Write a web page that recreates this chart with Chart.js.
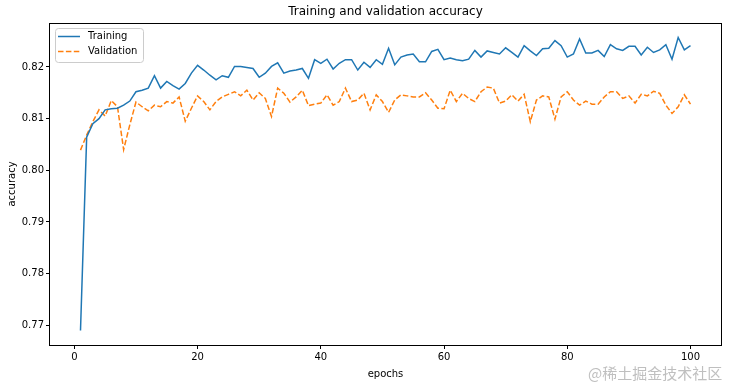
<!DOCTYPE html>
<html>
<head>
<meta charset="utf-8">
<script src="https://cdn.jsdelivr.net/npm/chart.js@4.4.0/dist/chart.umd.min.js"></script>
<style>
  html, body { margin: 0; padding: 0; background: #fff; }
  #wrap { width: 730px; height: 387px; position: relative; }
  #mark {
    position: absolute; left: 588px; top: 362px;
    font-family: "Noto Sans CJK SC", sans-serif; font-size: 15px;
    color: rgba(170, 170, 170, 0.75); white-space: nowrap;
  }
</style>
</head>
<body>
<div id="wrap">
  <canvas id="chartAcc" width="730" height="387"></canvas>
  <div id="mark">@稀土掘金技术社区</div>
</div>
<script>
const epochs = [
  1, 2, 3, 4, 5, 6, 7, 8, 9, 10, 11, 12, 13, 14, 15, 16, 17, 18, 19, 20,
  21, 22, 23, 24, 25, 26, 27, 28, 29, 30, 31, 32, 33, 34, 35, 36, 37, 38, 39, 40,
  41, 42, 43, 44, 45, 46, 47, 48, 49, 50, 51, 52, 53, 54, 55, 56, 57, 58, 59, 60,
  61, 62, 63, 64, 65, 66, 67, 68, 69, 70, 71, 72, 73, 74, 75, 76, 77, 78, 79, 80,
  81, 82, 83, 84, 85, 86, 87, 88, 89, 90, 91, 92, 93, 94, 95, 96, 97, 98, 99, 100
];

const trainAcc = [
  0.7690, 0.8064, 0.8090, 0.8100, 0.8117, 0.8119, 0.8120, 0.8126, 0.8134, 0.8152,
  0.8155, 0.8159, 0.8183, 0.8159, 0.8172, 0.8164, 0.8157, 0.8168, 0.8188, 0.8203,
  0.8194, 0.8184, 0.8175, 0.8183, 0.8180, 0.8201, 0.8201, 0.8199, 0.8197, 0.8180,
  0.8188, 0.8201, 0.8208, 0.8188, 0.8192, 0.8194, 0.8197, 0.8178, 0.8214, 0.8207,
  0.8215, 0.8196, 0.8207, 0.8214, 0.8214, 0.8194, 0.8209, 0.8199, 0.8214, 0.8205,
  0.8236, 0.8204, 0.8219, 0.8223, 0.8225, 0.8210, 0.8210, 0.8230, 0.8234, 0.8214,
  0.8217, 0.8214, 0.8212, 0.8215, 0.8232, 0.8219, 0.8231, 0.8228, 0.8225, 0.8237,
  0.8228, 0.8219, 0.8241, 0.8231, 0.8222, 0.8235, 0.8236, 0.8251, 0.8241, 0.8219,
  0.8225, 0.8254, 0.8227, 0.8227, 0.8232, 0.8220, 0.8243, 0.8235, 0.8232, 0.8240,
  0.8240, 0.8223, 0.8238, 0.8228, 0.8233, 0.8243, 0.8215, 0.8257, 0.8233, 0.8241
];

const valAcc = [
  0.8039, 0.8068, 0.8094, 0.8117, 0.8105, 0.8135, 0.8123, 0.8040, 0.8088, 0.8132,
  0.8123, 0.8115, 0.8126, 0.8123, 0.8133, 0.8130, 0.8142, 0.8095, 0.8120, 0.8144,
  0.8133, 0.8117, 0.8133, 0.8142, 0.8147, 0.8152, 0.8144, 0.8155, 0.8136, 0.8150,
  0.8139, 0.8104, 0.8159, 0.8149, 0.8132, 0.8142, 0.8155, 0.8125, 0.8128, 0.8130,
  0.8146, 0.8126, 0.8133, 0.8159, 0.8133, 0.8136, 0.8149, 0.8117, 0.8146, 0.8133,
  0.8112, 0.8136, 0.8146, 0.8144, 0.8142, 0.8142, 0.8150, 0.8136, 0.8120, 0.8119,
  0.8155, 0.8133, 0.8149, 0.8139, 0.8133, 0.8152, 0.8161, 0.8159, 0.8130, 0.8134,
  0.8146, 0.8134, 0.8147, 0.8094, 0.8136, 0.8144, 0.8142, 0.8099, 0.8142, 0.8152,
  0.8136, 0.8126, 0.8134, 0.8128, 0.8128, 0.8142, 0.8152, 0.8152, 0.8139, 0.8144,
  0.8130, 0.8147, 0.8144, 0.8153, 0.8149, 0.8126, 0.8110, 0.8123, 0.8146, 0.8128
];

const xTickValues = [0, 20, 40, 60, 80, 100];
const yTickValues = [0.77, 0.78, 0.79, 0.80, 0.81, 0.82];

const FONT = '"DejaVu Sans", sans-serif';
const blue = '#1f77b4';
const orange = '#ff7f0e';

// Rahmen (alle vier Achsenlinien), Titel und Legende wie bei matplotlib
const framePlugin = {
  id: 'frame',
  afterDraw(chart) {
    const { ctx, chartArea: a } = chart;
    ctx.save();
    ctx.strokeStyle = '#000';
    ctx.lineWidth = 1;
    ctx.strokeRect(Math.round(a.left) - 0.5, Math.round(a.top) + 0.5,
      Math.round(a.right - a.left) + 1, Math.round(a.bottom - a.top));

    // Titel über der Plotfläche
    ctx.fillStyle = '#000';
    ctx.font = '12px ' + FONT;
    ctx.textAlign = 'center';
    ctx.textBaseline = 'middle';
    ctx.fillText('Training and validation accuracy', (a.left + a.right) / 2, 12);

    // Legende oben links
    const bx = a.left + 5, by = a.top + 5, bw = 88, bh = 34;
    ctx.beginPath();
    ctx.roundRect(bx + 0.5, by + 0.5, bw, bh, 3);
    ctx.fillStyle = 'rgba(255,255,255,0.8)';
    ctx.fill();
    ctx.strokeStyle = '#cccccc';
    ctx.stroke();

    const items = [
      { text: 'Training', color: blue, dash: [] },
      { text: 'Validation', color: orange, dash: [5.5, 2.4] },
    ];
    ctx.font = '10px ' + FONT;
    ctx.textAlign = 'left';
    items.forEach((it, i) => {
      const y = by + 8.5 + i * 15;
      ctx.beginPath();
      ctx.setLineDash(it.dash);
      ctx.strokeStyle = it.color;
      ctx.lineWidth = 1.5;
      ctx.moveTo(bx + 3, y);
      ctx.lineTo(bx + 25, y);
      ctx.stroke();
      ctx.setLineDash([]);
      ctx.fillStyle = '#000';
      ctx.fillText(it.text, bx + 33, y);
    });
    ctx.restore();
  },
};

const chartAcc = new Chart(document.getElementById('chartAcc'), {
  type: 'line',
  data: {
    datasets: [
      {
        label: 'Training',
        data: epochs.map((e, i) => ({ x: e, y: trainAcc[i] })),
        borderColor: blue,
        borderWidth: 1.5,
        pointRadius: 0,
        tension: 0,
        fill: false,
      },
      {
        label: 'Validation',
        data: epochs.map((e, i) => ({ x: e, y: valAcc[i] })),
        borderColor: orange,
        borderWidth: 1.5,
        borderDash: [5.5, 2.4],
        pointRadius: 0,
        tension: 0,
        fill: false,
      },
    ],
  },
  options: {
    responsive: false,
    animation: false,
    events: [],
    layout: { padding: { top: 23, right: 9, left: 0, bottom: 0 } },
    plugins: {
      legend: { display: false },
      title: { display: false },
      tooltip: { enabled: false },
    },
    scales: {
      x: {
        type: 'linear',
        min: -3.95,
        max: 104.95,
        afterBuildTicks: (s) => { s.ticks = xTickValues.map((v) => ({ value: v })); },
        afterFit: (s) => { s.height = 42; },
        grid: { display: true, drawOnChartArea: false, drawTicks: true, tickLength: 4, color: '#000', lineWidth: 1 },
        border: { display: false },
        ticks: { color: '#000', font: { family: FONT, size: 10 }, padding: 2, maxRotation: 0, autoSkip: false,
          callback: (v) => String(v) },
        title: { display: true, text: 'epochs', color: '#000', font: { family: FONT, size: 10 }, padding: { top: 0, bottom: 7 } },
      },
      y: {
        type: 'linear',
        min: 0.7662,
        max: 0.8285,
        afterBuildTicks: (s) => { s.ticks = yTickValues.map((v) => ({ value: v })); },
        afterFit: (s) => { s.width = 50; },
        grid: { display: true, drawOnChartArea: false, drawTicks: true, tickLength: 4, color: '#000', lineWidth: 1 },
        border: { display: false },
        ticks: { color: '#000', font: { family: FONT, size: 10 }, padding: 2, autoSkip: false,
          callback: (v) => Number(v).toFixed(2) },
        title: { display: true, text: 'accuracy', color: '#000', font: { family: FONT, size: 10 }, padding: { top: 6, bottom: 0 } },
      },
    },
  },
  plugins: [framePlugin],
});
</script>
</body>
</html>
